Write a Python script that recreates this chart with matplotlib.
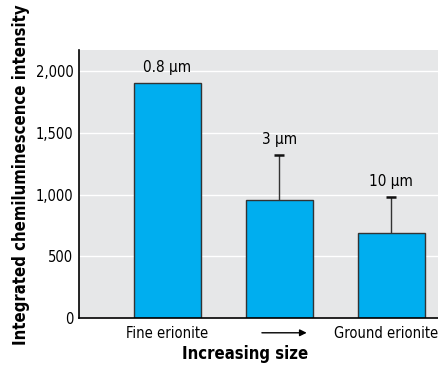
import numpy as np
import matplotlib
matplotlib.use("Agg")
import matplotlib.pyplot as plt
from matplotlib.transforms import ScaledTranslation

categories = ["Fine erionite", "", "Ground erionite"]
sizes = ["0.8 \u03bcm", "3 \u03bcm", "10 \u03bcm"]
intensity = [1905, 955, 690]
err_up = [0, 367, 292]
yticks = [0, 500, 1000, 1500, 2000]

plt.rcParams['font.family'] = ['DejaVu Sans']
plt.rcParams['font.stretch'] = 'condensed'

fig = plt.figure(figsize=(4.39, 3.66), dpi=100)
ax = fig.add_axes([0.18, 0.131, 0.818, 0.732])
ax.set_facecolor('#e6e7e8')

x = np.arange(len(intensity))
ax.bar(x, intensity, width=0.6, color='#00aeef', edgecolor='#333333', linewidth=1, zorder=3)
tops = np.array(intensity) + np.array(err_up)
ax.vlines(x[1:], np.array(intensity)[1:], tops[1:], color='#333333', linewidth=1, zorder=3)
ax.hlines(tops[1:], x[1:] - 0.045, x[1:] + 0.045, color='#111111', linewidth=1.8, zorder=3)

for xi, t, s in zip(x, tops, sizes):
    ax.text(xi, t + 60, s, ha='center', va='bottom', fontsize=11)

ax.set_xlim(-0.79, 2.42)
ax.set_ylim(0, 2170)
ax.set_yticks(yticks)
ax.set_yticklabels(["{:,}".format(t) for t in yticks], fontsize=10.5)
ax.set_xticks(x)
ax.set_xticklabels(categories, fontsize=10.5)
ax.tick_params(axis='y', length=0, pad=4)
ax.tick_params(axis='x', length=0, pad=6)
lbl = ax.get_xticklabels()[2]
lbl.set_transform(lbl.get_transform() + ScaledTranslation(-5 / 100, 0, fig.dpi_scale_trans))
ax.yaxis.grid(True, color='white', linewidth=1, zorder=0)
ax.set_axisbelow(True)
for s in ['top', 'right']:
    ax.spines[s].set_visible(False)
for s in ['left', 'bottom']:
    ax.spines[s].set_linewidth(1.2)
    ax.spines[s].set_zorder(4)

ax.annotate('', xy=(1.27, -0.055), xytext=(0.82, -0.055), xycoords=('data', 'axes fraction'),
            textcoords=('data', 'axes fraction'),
            arrowprops=dict(arrowstyle='-|>', color='black', lw=1, mutation_scale=10),
            annotation_clip=False)

fig.text(0.558, 0.008, "Increasing size", ha='center', va='bottom', fontsize=12, fontweight='bold')
fig.text(0.048, 0.522, "Integrated chemiluminescence intensity", ha='center', va='center',
         rotation=90, fontsize=12, fontweight='bold')

fig.savefig("out.png", dpi=100)
